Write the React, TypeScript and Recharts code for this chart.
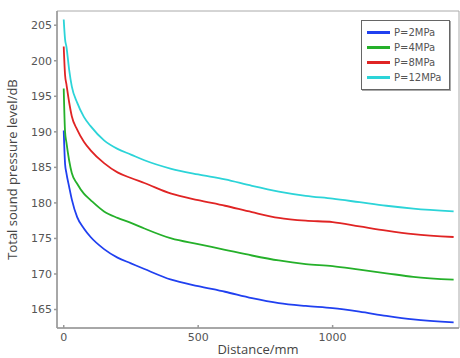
import {
  LineChart,
  Line,
  XAxis,
  YAxis,
  ReferenceArea
} from "recharts"

const distance = [0, 5, 10, 20, 30, 50, 75, 100, 150, 200, 250, 300, 400, 500, 600, 700, 800, 900, 1000, 1100, 1200, 1300, 1450]

const p2MPa = [190.2, 185.5, 184.2, 182.3, 180.5, 178.0, 176.4, 175.2, 173.5, 172.3, 171.5, 170.7, 169.2, 168.3, 167.5, 166.6, 165.9, 165.5, 165.2, 164.7, 164.1, 163.6, 163.2]
const p4MPa = [196.1, 190.0, 188.5, 186.0, 184.2, 182.7, 181.3, 180.4, 178.8, 177.9, 177.2, 176.4, 175.0, 174.2, 173.4, 172.6, 171.9, 171.4, 171.1, 170.6, 170.1, 169.6, 169.2]
const p8MPa = [202.0, 198.0, 196.7, 194.2, 192.2, 190.3, 188.6, 187.4, 185.6, 184.3, 183.5, 182.8, 181.3, 180.4, 179.6, 178.7, 177.9, 177.5, 177.3, 176.7, 176.1, 175.6, 175.2]
const p12MPa = [205.8, 203.0, 202.0, 198.8, 196.4, 194.1, 192.1, 190.8, 188.8, 187.6, 186.8, 186.0, 184.8, 184.0, 183.3, 182.4, 181.6, 181.0, 180.6, 180.1, 179.6, 179.2, 178.8]

const xTicks = [0, 500, 1000]
const yTicks = [165, 170, 175, 180, 185, 190, 195, 200, 205]
const xDomain = [-25, 1470]
const yDomain = [162.4, 207]

const series = [
  { key: "p2", name: "P=2MPa", color: "#2040f0" },
  { key: "p4", name: "P=4MPa", color: "#25b02a" },
  { key: "p8", name: "P=8MPa", color: "#e02424" },
  { key: "p12", name: "P=12MPa", color: "#2cd4d8" }
]

const chartData = distance.map((d, i) => ({
  d,
  p2: p2MPa[i],
  p4: p4MPa[i],
  p8: p8MPa[i],
  p12: p12MPa[i]
}))

const tickFont = { fontSize: 11, fill: "#555", fontFamily: "DejaVu Sans" }

function LegendBox() {
  return (
    <div
      style={{
        position: "absolute",
        left: 361,
        top: 20,
        border: "1px solid #666",
        boxShadow: "1px 1px 0 #aaa",
        background: "#fff",
        padding: "4px 4px 4px 5px",
        width: 78,
        fontFamily: "DejaVu Sans",
        fontSize: 10,
        color: "#555"
      }}
    >
      {series.map(s => (
        <div key={s.key} style={{ display: "flex", alignItems: "center", height: 15 }}>
          <div style={{ width: 23, height: 3, background: s.color, marginRight: 4 }} />
          <span>{s.name}</span>
        </div>
      ))}
    </div>
  )
}

export default function App() {
  return (
    <div style={{ position: "absolute", left: 0, top: 0, width: 460, height: 358, background: "#fff" }}>
      <LineChart
        width={460}
        height={358}
        data={chartData}
        margin={{ top: 11, right: 1, left: 0, bottom: 0 }}
      >
        <ReferenceArea
          x1={xDomain[0]}
          x2={xDomain[1]}
          y1={yDomain[0]}
          y2={yDomain[1]}
          fill="none"
          stroke="#aaa"
          strokeWidth={1}
          ifOverflow="visible"
        />
        <XAxis
          dataKey="d"
          type="number"
          domain={xDomain}
          ticks={xTicks}
          allowDataOverflow
          height={30}
          tickSize={-3}
          tickMargin={8}
          tick={tickFont}
          stroke="#999"
          strokeWidth={1.5}
          label={{
            value: "Distance/mm",
            position: "insideBottom",
            offset: 4,
            style: { fontSize: 13, fill: "#444", fontFamily: "Open Sans" }
          }}
        />
        <XAxis
          xAxisId="top"
          dataKey="d"
          type="number"
          orientation="top"
          domain={xDomain}
          ticks={xTicks}
          allowDataOverflow
          height={0}
          tickSize={-3}
          tickFormatter={() => ""}
          axisLine={false}
          stroke="#999"
        />
        <YAxis
          type="number"
          domain={yDomain}
          ticks={yTicks}
          allowDataOverflow
          width={57}
          tickSize={3}
          tickMargin={2}
          tick={tickFont}
          stroke="#999"
          strokeWidth={1.5}
          label={{
            value: "Total sound pressure level/dB",
            angle: -90,
            position: "insideLeft",
            offset: 12,
            style: { textAnchor: "middle", fontSize: 13, fill: "#444", fontFamily: "Open Sans" }
          }}
        />
        {series.map(s => (
          <Line
            key={s.key}
            type="monotone"
            dataKey={s.key}
            name={s.name}
            stroke={s.color}
            strokeWidth={1.8}
            dot={false}
            isAnimationActive={false}
          />
        ))}
      </LineChart>
      <LegendBox />
    </div>
  )
}
